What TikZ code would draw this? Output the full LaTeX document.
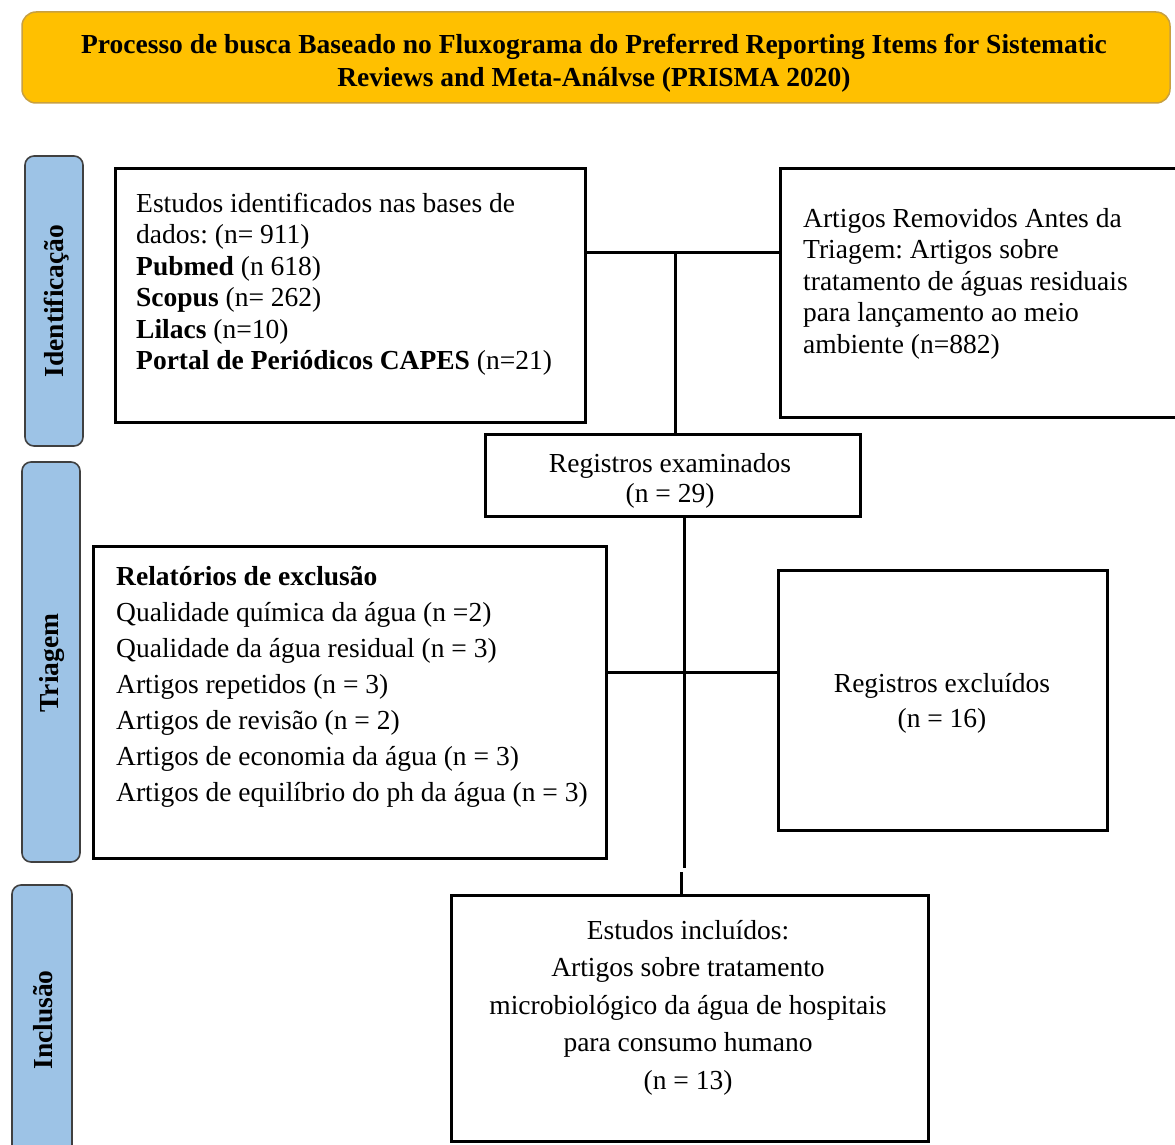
\documentclass[tikz,border=0pt]{standalone}
\usepackage{fontspec}
\setmainfont{Liberation Serif}
\frenchspacing
\definecolor{titlefill}{HTML}{FFC000}
\definecolor{titleline}{HTML}{C8A040}
\definecolor{barblue}{HTML}{9DC3E6}
\definecolor{barline}{HTML}{404040}
\begin{document}
\frenchspacing
\begin{tikzpicture}[x=1pt,y=-1pt,
  box/.style={draw=black, line width=3pt, fill=white, inner sep=0pt},
  bar/.style={draw=barline, line width=1.6pt, fill=barblue, rounded corners=9pt, inner sep=0pt},
  barlabel/.style={rotate=90, inner sep=0pt, font=\bfseries\fontsize{27.5}{30}\selectfont},
  conn/.style={draw=black, line width=3pt},
  txtA/.style={inner sep=0pt, align=left, font=\fontsize{27.5}{31.5}\selectfont},
  txtD/.style={inner sep=0pt, align=left, font=\fontsize{27.5}{36}\selectfont},
  txtC/.style={inner sep=0pt, align=center, font=\fontsize{27.5}{30}\selectfont},
  txtF/.style={inner sep=0pt, align=center, font=\fontsize{27.5}{35}\selectfont},
  txtE/.style={inner sep=0pt, align=center, font=\fontsize{27.5}{37.5}\selectfont},
]
\useasboundingbox (0,0) rectangle (1175,1145);

% title
\node[draw=titleline, line width=1.5pt, fill=titlefill, rounded corners=14pt,
      minimum width=1148pt, minimum height=91pt, inner sep=0pt] (title) at (596,57.5) {};
\node[align=center, inner sep=0pt, font=\bfseries\fontsize{27.5}{33}\selectfont, anchor=base]
  (titletext) at (594,87) {Processo de busca Baseado no Fluxograma do Preferred Reporting Items for Sistematic\\Reviews and Meta-Análvse (PRISMA 2020)};

% side bars
\node[bar, minimum width=58pt, minimum height=290pt] (bar1) at (54,301) {};
\node[barlabel] (lab1) at (57,301) {Identificação};
\node[bar, minimum width=58pt, minimum height=400pt] (bar2) at (51,662) {};
\node[barlabel] (lab2) at (52,663) {Triagem};
\node[bar, minimum width=60pt, minimum height=290pt] (bar3) at (42,1030) {};
\node[barlabel] (lab3) at (43,1020) {Inclusão};

% boxes
\node[box, minimum width=470pt, minimum height=254pt] (A) at (350,295) {};
\node[txtA, anchor=base west] (Atext) at (136,369.5)
  {Estudos identificados nas bases de\\dados: (n= 911)\\\textbf{Pubmed} (n 618)\\\textbf{Scopus} (n= 262)\\\textbf{Lilacs} (n=10)\\\textbf{Portal de Periódicos CAPES} (n=21)};

\node[box, minimum width=405pt, minimum height=249pt] (B) at (982.5,292.5) {};
\node[txtA, anchor=base west] (Btext) at (803,353)
  {Artigos Removidos Antes da\\Triagem: Artigos sobre\\tratamento de águas residuais\\para lançamento ao meio\\ambiente (n=882)};

\node[box, minimum width=375pt, minimum height=82pt] (C) at (672.5,475) {};
\node[txtC, anchor=base] (Ctext) at (670,502) {Registros examinados\\(n = 29)};

\node[box, minimum width=513pt, minimum height=312pt] (D) at (349.5,702) {};
\node[txtD, anchor=base west] (Dtext) at (116,801)
  {\textbf{Relatórios de exclusão}\\Qualidade química da água (n =2)\\Qualidade da água residual (n = 3)\\Artigos repetidos (n = 3)\\Artigos de revisão (n = 2)\\Artigos de economia da água (n = 3)\\Artigos de equilíbrio do ph da água (n = 3)};

\node[box, minimum width=329pt, minimum height=260pt] (F) at (942.5,700) {};
\node[txtF, anchor=base] (Ftext) at (942,727) {Registros excluídos\\(n = 16)};

\node[box, minimum width=477pt, minimum height=246pt] (E) at (689.5,1018) {};
\node[txtE, anchor=base] (Etext) at (688,1089)
  {Estudos incluídos:\\Artigos sobre tratamento\\microbiológico da água de hospitais\\para consumo humano\\(n = 13)};

% connectors
\coordinate (j1) at (675,252);
\draw[conn] (A.east |- j1) -- (B.west |- j1);
\draw[conn] (j1) -- (C.north -| j1);
\coordinate (j2) at (684,672);
\draw[conn] (D.east |- j2) -- (F.west |- j2);
\coordinate (k1) at (684,868);
\draw[conn] (C.south -| k1) -- (k1);
\coordinate (k2) at (681,872);
\draw[conn] (k2) -- (E.north -| k2);
\end{tikzpicture}
\end{document}
